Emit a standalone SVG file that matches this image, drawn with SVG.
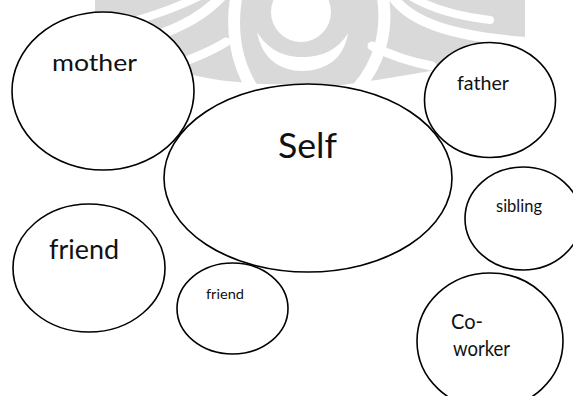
<svg xmlns="http://www.w3.org/2000/svg" width="573" height="396" viewBox="0 0 573 396">
  <style>
    .node ellipse { fill: #ffffff; stroke: #000000; stroke-width: 1.6; }
    .node text { font-family: Lato, "Liberation Sans", sans-serif; fill: #111111; }
    .wm { fill: #d9d9d9; }
    .wmw { fill: #ffffff; }
    .wmb { fill: none; stroke: #ffffff; stroke-linecap: round; }
  </style>
  <rect x="0" y="0" width="573" height="396" fill="#ffffff"/>
  <g id="watermark">
    <path class="wm" d="M 95,0 L 525,0 L 525,45 C 490,58 455,66 425,72 C 395,77 365,82 335,86 C 310,85 285,84 262,84 C 235,82 210,80 190,74 C 160,62 125,50 95,42 Z"/>
    <circle class="wmw" cx="301" cy="12" r="30"/>
    <path class="wmw" d="M 257,32 C 262,60 282,71 302,71 C 324,71 344,60 348,33 C 338,50 322,57 302,57 C 284,57 268,50 257,32 Z"/>
    <path class="wmb" stroke-width="12" d="M 236,-2 C 231,30 236,62 252,88"/>
    <path class="wmb" stroke-width="12" d="M 383,-2 C 388,30 380,62 358,88"/>
    <path class="wmb" stroke-width="10" d="M 222,-4 C 205,14 185,26 150,38"/>
    <path class="wmb" stroke-width="9" d="M 226,42 C 210,52 195,58 172,66"/>
    <path class="wmb" stroke-width="10" d="M 392,-4 C 410,22 450,36 525,42"/>
    <path class="wmb" stroke-width="9" d="M 372,46 C 392,56 410,62 432,66"/>
    <path class="wmb" stroke-width="8" d="M 200,-4 C 180,6 160,14 130,22"/>
    <path class="wmb" stroke-width="8" d="M 410,-4 C 430,8 455,16 490,20"/>
  </g>
  <g id="mother" class="node">
    <ellipse cx="103" cy="91" rx="91" ry="79"/>
    <text x="52" y="71" font-size="24" textLength="85" lengthAdjust="spacingAndGlyphs">mother</text>
  </g>
  <g id="self" class="node">
    <ellipse cx="308" cy="178" rx="144" ry="94"/>
    <text x="278" y="158" font-size="34" textLength="59" lengthAdjust="spacingAndGlyphs">Self</text>
  </g>
  <g id="father" class="node">
    <ellipse cx="490" cy="100" rx="65.5" ry="57.5"/>
    <text x="457" y="90" font-size="19" textLength="52" lengthAdjust="spacingAndGlyphs">father</text>
  </g>
  <g id="sibling" class="node">
    <ellipse cx="523" cy="218.5" rx="58" ry="51.5"/>
    <text x="496" y="212" font-size="18" textLength="46" lengthAdjust="spacingAndGlyphs">sibling</text>
  </g>
  <g id="friend1" class="node">
    <ellipse cx="89" cy="268" rx="76" ry="64"/>
    <text x="49" y="259" font-size="26" textLength="70" lengthAdjust="spacingAndGlyphs">friend</text>
  </g>
  <g id="friend2" class="node">
    <ellipse cx="232.5" cy="308.5" rx="55.5" ry="45.5"/>
    <text x="206" y="299" font-size="14" textLength="38" lengthAdjust="spacingAndGlyphs">friend</text>
  </g>
  <g id="coworker" class="node">
    <ellipse cx="490" cy="341" rx="73" ry="68"/>
    <text x="451" y="329" font-size="21" textLength="32" lengthAdjust="spacingAndGlyphs">Co-</text>
    <text x="453" y="356" font-size="21" textLength="57" lengthAdjust="spacingAndGlyphs">worker</text>
  </g>
  <g id="connectors"/>
</svg>
